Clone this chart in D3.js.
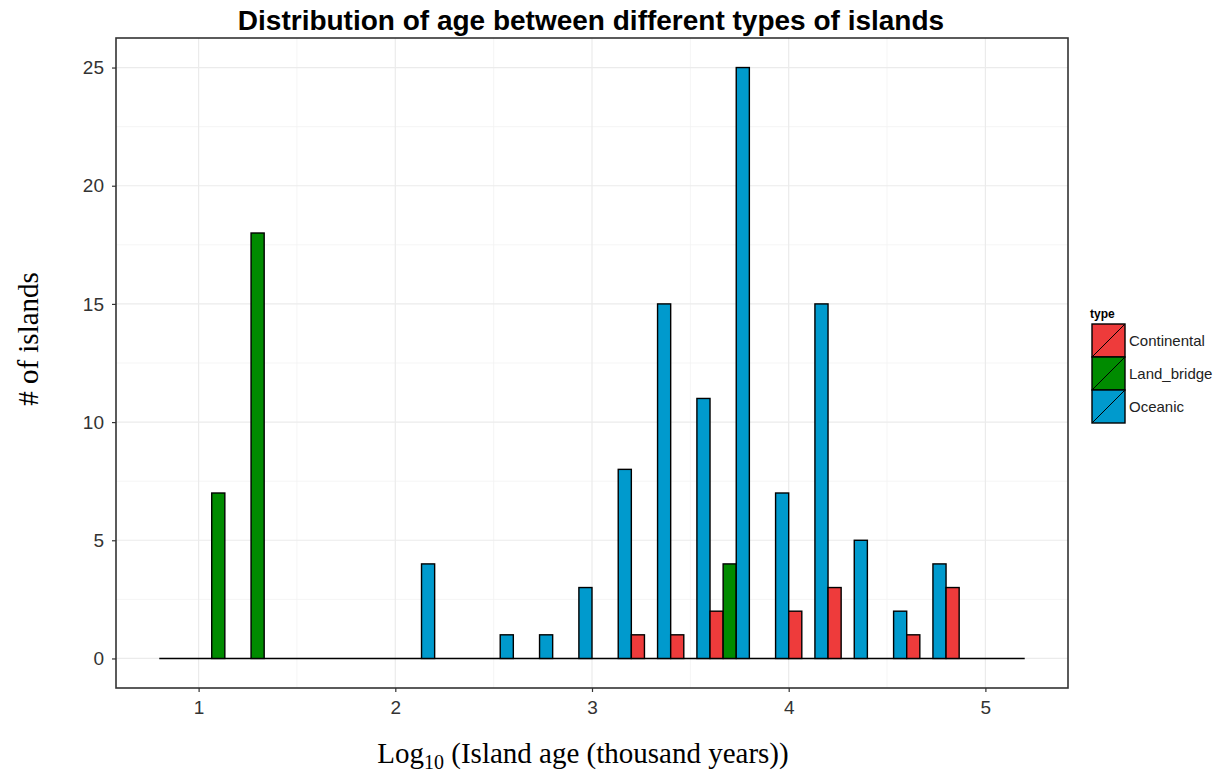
<!DOCTYPE html>
<html>
<head>
<meta charset="utf-8">
<script src="https://cdn.jsdelivr.net/npm/d3@7"></script>
<style>
  html, body { margin: 0; padding: 0; background: #fff; }
  svg { display: block; }
</style>
</head>
<body>
<svg id="chart" width="1222" height="775"></svg>
<script>
// ---- data ----
const types = ["Continental", "Land_bridge", "Oceanic"];
const binWidth = 0.2;
const binCenters = [0.9,1.1,1.3,1.5,1.7,1.9,2.1,2.3,2.5,2.7,2.9,3.1,3.3,3.5,3.7,3.9,4.1,4.3,4.5,4.7,4.9,5.1];
const continental = [0,0,0,0,0,0,0,0,0,0,0,0,1,1,2,0,2,3,0,1,3,0];
const landBridge  = [0,7,18,0,0,0,0,0,0,0,0,0,0,0,4,0,0,0,0,0,0,0];
const oceanic     = [0,0,0,0,0,0,4,0,1,1,3,8,15,11,25,7,15,5,2,4,0,0];
const xTicks = [1, 2, 3, 4, 5];
const yTicks = [0, 5, 10, 15, 20, 25];
const colors = ["#EE3B3B", "#008B00", "#009ACD"];

const seriesByType = { "Continental": continental, "Land_bridge": landBridge, "Oceanic": oceanic };
const rows = [];
binCenters.forEach((c, i) => {
  types.forEach(t => rows.push({ center: c, type: t, count: seriesByType[t][i] }));
});

// ---- layout ----
const svg = d3.select("#chart");
const panel = { left: 116, right: 1068, top: 38, bottom: 688 };

const xMin = binCenters[0] - binWidth / 2, xMax = binCenters[binCenters.length - 1] + binWidth / 2;
const xPad = (xMax - xMin) * 0.05;
const x = d3.scaleLinear().domain([xMin - xPad, xMax + xPad]).range([panel.left, panel.right]);
const yMaxV = d3.max(rows, d => d.count);
const yPad = yMaxV * 0.05;
const y = d3.scaleLinear().domain([-yPad, yMaxV + yPad]).range([panel.bottom, panel.top]);
const color = d3.scaleOrdinal().domain(types).range(colors);
const slot = d3.scaleBand().domain(types).range([0, x(binWidth) - x(0)]).padding(0);

// grid
const grid = svg.append("g");
const xMinor = d3.range(0.5, 5.51, 1).filter(v => x(v) > panel.left && x(v) < panel.right);
const yMinor = d3.range(2.5, 26, 5).filter(v => y(v) > panel.top);
grid.selectAll(".xm").data(xMinor).join("line")
  .attr("x1", d => x(d)).attr("x2", d => x(d)).attr("y1", panel.top).attr("y2", panel.bottom)
  .attr("stroke", "#F2F2F2").attr("stroke-width", 0.8);
grid.selectAll(".ym").data(yMinor).join("line")
  .attr("x1", panel.left).attr("x2", panel.right).attr("y1", d => y(d)).attr("y2", d => y(d))
  .attr("stroke", "#F2F2F2").attr("stroke-width", 0.8);
grid.selectAll(".xM").data(xTicks).join("line")
  .attr("x1", d => x(d)).attr("x2", d => x(d)).attr("y1", panel.top).attr("y2", panel.bottom)
  .attr("stroke", "#EBEBEB").attr("stroke-width", 1.2);
grid.selectAll(".yM").data(yTicks).join("line")
  .attr("x1", panel.left).attr("x2", panel.right).attr("y1", d => y(d)).attr("y2", d => y(d))
  .attr("stroke", "#EBEBEB").attr("stroke-width", 1.2);

// baseline (zero-height bars)
svg.append("line")
  .attr("x1", x(xMin)).attr("x2", x(xMax)).attr("y1", y(0)).attr("y2", y(0))
  .attr("stroke", "#000").attr("stroke-width", 1.6);

// bars
svg.append("g").selectAll("rect").data(rows.filter(d => d.count > 0)).join("rect")
  .attr("x", d => x(d.center - binWidth / 2) + slot(d.type))
  .attr("width", slot.bandwidth())
  .attr("y", d => y(d.count))
  .attr("height", d => y(0) - y(d.count))
  .attr("fill", d => color(d.type))
  .attr("stroke", "#000").attr("stroke-width", 1.4);

// panel border
svg.append("rect")
  .attr("x", panel.left).attr("y", panel.top)
  .attr("width", panel.right - panel.left).attr("height", panel.bottom - panel.top)
  .attr("fill", "none").attr("stroke", "#333").attr("stroke-width", 1.6);

// axes
const xAxis = svg.append("g").attr("transform", `translate(0,${panel.bottom})`)
  .call(d3.axisBottom(x).tickValues(xTicks).tickFormat(d3.format("d")).tickSize(4).tickPadding(9));
const yAxis = svg.append("g").attr("transform", `translate(${panel.left},0)`)
  .call(d3.axisLeft(y).tickValues(yTicks).tickFormat(d3.format("d")).tickSize(4).tickPadding(8));
[xAxis, yAxis].forEach(a => {
  a.select(".domain").remove();
  a.selectAll(".tick line").attr("stroke", "#333").attr("stroke-width", 1.2);
  a.selectAll(".tick text").attr("fill", "#333").style("font-family", "Liberation Sans, Arial, sans-serif").style("font-size", "19px");
});

// title
svg.append("text")
  .attr("x", (panel.left + panel.right) / 2 - 1).attr("y", 30)
  .attr("text-anchor", "middle")
  .style("font-family", "Liberation Sans, Arial, sans-serif").style("font-weight", "bold").style("font-size", "28px")
  .text("Distribution of age between different types of islands");

// x label
const xl = svg.append("text")
  .attr("x", 583).attr("y", 763).attr("text-anchor", "middle")
  .style("font-family", "Liberation Serif, Times New Roman, serif").style("font-size", "29px").attr("fill", "#000");
xl.append("tspan").text("Log");
xl.append("tspan").attr("dy", 6).style("font-size", "20px").text("10");
xl.append("tspan").attr("dy", -6).text(" (Island age (thousand years))");

// y label
svg.append("text")
  .attr("transform", "translate(38,339) rotate(-90)").attr("text-anchor", "middle")
  .style("font-family", "Liberation Serif, Times New Roman, serif").style("font-size", "29px")
  .text("# of islands");

// legend
const lg = svg.append("g").attr("transform", "translate(1090,0)");
lg.append("text").attr("x", 0).attr("y", 318)
  .style("font-family", "Liberation Sans, Arial, sans-serif").style("font-weight", "bold").style("font-size", "12px")
  .text("type");
const keySize = 33;
types.forEach((t, i) => {
  const gy = 324 + i * keySize;
  const g = lg.append("g").attr("transform", `translate(2,${gy})`);
  g.append("rect").attr("width", keySize).attr("height", keySize)
    .attr("fill", color(t)).attr("stroke", "#000").attr("stroke-width", 1.4);
  g.append("line").attr("x1", 0).attr("y1", keySize).attr("x2", keySize).attr("y2", 0)
    .attr("stroke", "#000").attr("stroke-width", 1);
  lg.append("text").attr("x", 39).attr("y", gy + keySize / 2 + 5)
    .style("font-family", "Liberation Sans, Arial, sans-serif").style("font-size", "15px").attr("fill", "#222")
    .text(t);
});
</script>
</body>
</html>
